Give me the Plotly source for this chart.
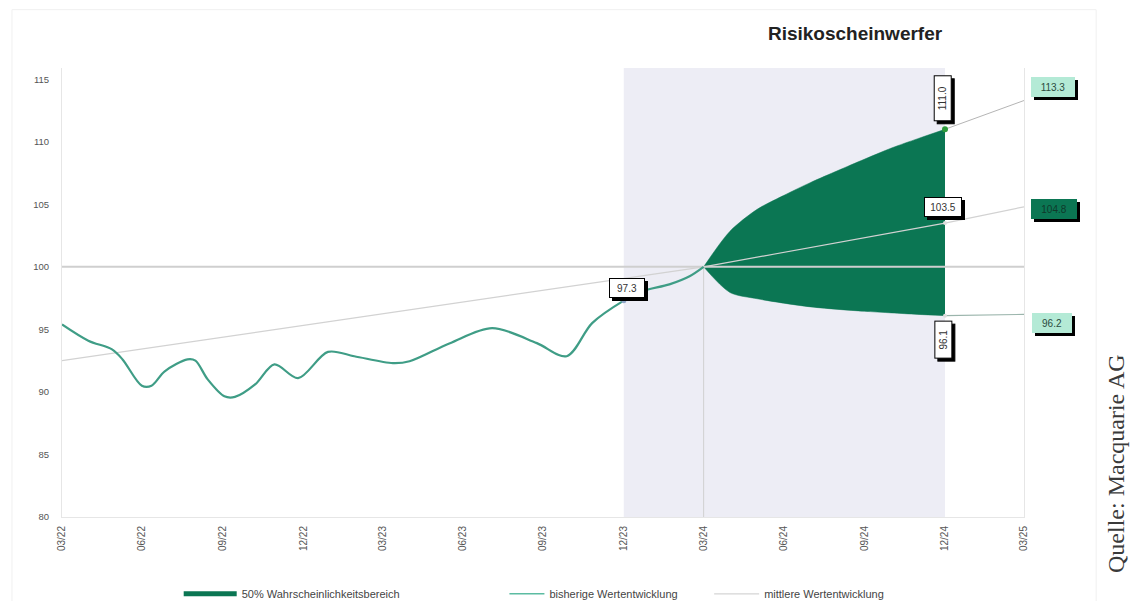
import plotly.graph_objects as go

# ---------------- data ----------------
hist_dates = ["2022-03-31", "2022-04-30", "2022-05-27", "2022-06-08", "2022-06-30", "2022-07-11",
              "2022-07-26", "2022-08-21", "2022-08-30", "2022-09-13", "2022-10-02", "2022-10-14",
              "2022-11-06", "2022-11-28", "2022-12-25", "2023-01-28", "2023-02-27", "2023-04-12",
              "2023-05-01", "2023-06-16", "2023-08-03", "2023-09-23", "2023-10-27", "2023-11-25",
              "2023-12-31", "2024-01-21", "2024-02-21", "2024-03-15", "2024-03-31"]
hist_values = [95.4, 94.1, 93.4, 92.6, 90.5, 90.5,
               91.65, 92.6, 92.5, 91.0, 89.65, 89.6,
               90.6, 92.2, 91.1, 93.2, 92.85, 92.3,
               92.45, 93.9, 95.1, 93.9, 92.85, 95.5,
               97.3, 98.05, 98.6, 99.25, 100.0]

trend_dates = ["2022-03-31", "2024-03-31", "2024-12-31", "2025-03-31"]
trend_values = [92.5, 100.0, 103.5, 104.8]

band_dates = ["2024-03-31", "2024-04-30", "2024-05-31", "2024-06-30", "2024-07-31",
              "2024-08-31", "2024-09-30", "2024-10-31", "2024-11-30", "2024-12-31"]
band_upper = [100.0, 102.85, 104.6, 105.7, 106.75, 107.7, 108.6, 109.5, 110.25, 111.0]
band_lower = [100.0, 97.95, 97.45, 97.1, 96.8, 96.6, 96.45, 96.32, 96.2, 96.1]

ext_dates = ["2024-12-31", "2025-03-31"]
ext_upper = [111.0, 113.3]
ext_lower = [96.1, 96.2]

tick_dates = ["2022-03-31", "2022-06-30", "2022-09-30", "2022-12-31", "2023-03-31", "2023-06-30",
              "2023-09-30", "2023-12-31", "2024-03-31", "2024-06-30", "2024-09-30", "2024-12-31",
              "2025-03-31"]
tick_labels = ["03/22", "06/22", "09/22", "12/22", "03/23", "06/23", "09/23", "12/23",
               "03/24", "06/24", "09/24", "12/24", "03/25"]
y_ticks = [80, 85, 90, 95, 100, 105, 110, 115]

forecast_start = "2023-12-31"
forecast_end = "2024-12-31"
today = "2024-03-31"
baseline = 100

# ---------------- styles ----------------
BAND = "#0b7653"
HIST = "#3f9d86"
MINT = "#b4ead6"
FONT = "Liberation Sans, Arial, sans-serif"

fig = go.Figure()

# 50% band
fig.add_trace(go.Scatter(x=band_dates, y=band_lower, mode="lines",
                         line=dict(color=BAND, width=0.5, shape="spline", smoothing=0.8),
                         showlegend=False, hoverinfo="skip"))
fig.add_trace(go.Scatter(x=band_dates, y=band_upper, mode="lines",
                         line=dict(color=BAND, width=0.5, shape="spline", smoothing=0.8),
                         fill="tonexty", fillcolor=BAND, showlegend=False, hoverinfo="skip"))

# baseline 100
fig.add_trace(go.Scatter(x=[tick_dates[0], tick_dates[-1]], y=[baseline, baseline], mode="lines",
                         line=dict(color="#cfcfcf", width=2), showlegend=False, hoverinfo="skip"))

# extensions of band edges
fig.add_trace(go.Scatter(x=ext_dates, y=ext_upper, mode="lines", line=dict(color="#b5b5b5", width=1),
                         showlegend=False, hoverinfo="skip"))
fig.add_trace(go.Scatter(x=ext_dates, y=ext_lower, mode="lines", line=dict(color="#9bb5ac", width=1.2),
                         showlegend=False, hoverinfo="skip"))

# mean development
fig.add_trace(go.Scatter(x=trend_dates, y=trend_values, mode="lines", line=dict(color="#d2d2d2", width=1.2),
                         showlegend=False, hoverinfo="skip"))

# historical
fig.add_trace(go.Scatter(x=hist_dates, y=hist_values, mode="lines",
                         line=dict(color=HIST, width=2.2, shape="spline", smoothing=0.9),
                         showlegend=False, hoverinfo="skip"))

# markers
fig.add_trace(go.Scatter(x=[forecast_end], y=[band_upper[-1]], mode="markers",
                         marker=dict(color="#2f9b3c", size=6), showlegend=False, hoverinfo="skip"))
fig.add_trace(go.Scatter(x=[forecast_end, forecast_end], y=[trend_values[2], band_lower[-1]], mode="markers",
                         marker=dict(color="#dddddd", size=4), showlegend=False, hoverinfo="skip"))
fig.add_trace(go.Scatter(x=[forecast_start], y=[hist_values[24]], mode="markers",
                         marker=dict(color="#8fa6c8", size=5), showlegend=False, hoverinfo="skip"))

# legend entries
fig.add_trace(go.Scatter(x=[None], y=[None], mode="lines", line=dict(color=BAND, width=5),
                         name="50% Wahrscheinlichkeitsbereich", legend="legend"))
fig.add_trace(go.Scatter(x=[None], y=[None], mode="lines", line=dict(color="#5cbca2", width=1.5),
                         name="bisherige Wertentwicklung", legend="legend2"))
fig.add_trace(go.Scatter(x=[None], y=[None], mode="lines", line=dict(color="#d5d5d5", width=1.2),
                         name="mittlere Wertentwicklung", legend="legend3"))

# shaded forecast area and vertical marker
fig.add_vrect(x0=forecast_start, x1=forecast_end, fillcolor="#ededf5", line_width=0, layer="below")
fig.add_shape(type="line", x0=today, x1=today, y0=80, y1=baseline, line=dict(color="#d0d0d0", width=1),
              layer="below")
fig.add_shape(type="rect", xref="paper", yref="paper", x0=-0.052, x1=1.075, y0=-0.19, y1=1.13,
              line=dict(color="#f0f0f0", width=1), layer="below")


def boxed(x, y, text, xshift, yshift, bg, fg, angle=0, w=30, h=14, border=True):
    common = dict(x=x, y=y, xref="x", yref="y", showarrow=False, textangle=angle,
                  width=w, height=h, borderwidth=1, borderpad=2,
                  font=dict(family=FONT, size=10, color=fg))
    # drop shadow (empty box)
    fig.add_annotation(**common, text=" ", xshift=xshift + 3, yshift=yshift - 3,
                       bgcolor="#000000", bordercolor="#000000")
    fig.add_annotation(**common, text=text, xshift=xshift, yshift=yshift, bgcolor=bg,
                       bordercolor="#000000" if border else bg)


boxed(forecast_start, hist_values[24], "97.3", 3, 13, "white", "#333333")
boxed(forecast_end, band_upper[-1], "111.0", -2, 31, "white", "#333333", angle=-90, w=40, h=12)
boxed(forecast_end, trend_values[2], "103.5", -2, 16, "white", "#333333", w=32)
boxed(forecast_end, band_lower[-1], "96.1", -2, -24, "white", "#333333", angle=-90, w=32, h=12)
boxed(tick_dates[-1], ext_upper[-1], "113.3", 29, 14, MINT, "#2b4a40", w=38, border=False)
boxed(tick_dates[-1], trend_values[-1], "104.8", 30, -2, BAND, "#10392b", w=40, border=False)
boxed(tick_dates[-1], ext_lower[-1], "96.2", 28, -9, MINT, "#2b4a40", w=34, border=False)

fig.add_annotation(text="Quelle: Macquarie AG", xref="paper", yref="paper", x=1.0955, y=0.12,
                   xanchor="center", yanchor="middle", textangle=-90, showarrow=False,
                   font=dict(family="Liberation Serif, Times New Roman, serif", size=24, color="#3a3a3a"))

legend_common = dict(orientation="h", xref="container", yref="container", yanchor="middle",
                     xanchor="left", y=0.012, bgcolor="rgba(0,0,0,0)",
                     font=dict(family=FONT, size=11, color="#444444"), tracegroupgap=0)

fig.update_layout(
    width=1131, height=601,
    margin=dict(l=62, r=107, t=68, b=84),
    paper_bgcolor="white", plot_bgcolor="white",
    font=dict(family=FONT, size=10, color="#444444"),
    title=dict(text="<b>Risikoscheinwerfer</b>", x=0.756, xref="container", xanchor="center",
               y=0.945, yanchor="middle", font=dict(family=FONT, size=19, color="#222222")),
    xaxis=dict(type="date", range=[tick_dates[0], tick_dates[-1]], tickmode="array",
               tickvals=tick_dates, ticktext=tick_labels, tickangle=-90, showgrid=False,
               showline=True, linecolor="#e6e6e6", mirror=False, zeroline=False,
               tickfont=dict(size=10, color="#555555"), ticks="", ticklabelstandoff=4),
    yaxis=dict(range=[80, 115.9], tickmode="array", tickvals=y_ticks, showgrid=False,
               showline=True, linecolor="#e6e6e6", mirror=True, zeroline=False,
               tickfont=dict(size=9.5, color="#555555"), ticks="", ticklabelstandoff=10),
    legend=dict(**legend_common, x=0.158, itemwidth=53),
    legend2=dict(**legend_common, x=0.446, itemwidth=35),
    legend3=dict(**legend_common, x=0.627, itemwidth=45),
)

fig.write_html("out.html")
